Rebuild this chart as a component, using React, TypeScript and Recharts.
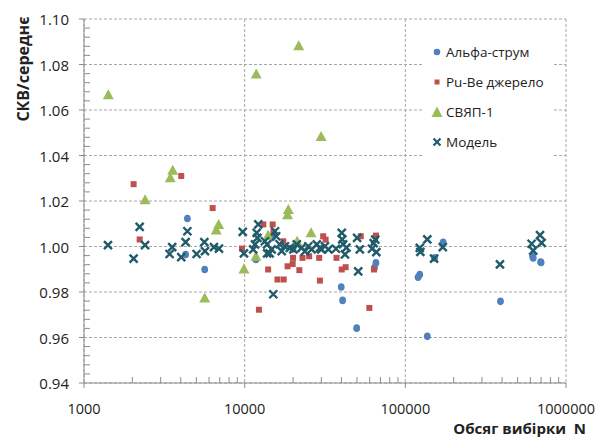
import { ScatterChart, Scatter, XAxis, YAxis, CartesianGrid } from 'recharts'

// Альфа-струм
const alphaN = [4290, 4400, 5640, 11750, 14900, 20000, 39900, 40700, 49800, 64200, 65600, 120000, 123000, 137000, 152000, 172000, 391000, 620000, 625000, 695000, 700000]
const alphaV = [0.9965, 1.0123, 0.9899, 0.9943, 1.004, 0.999, 0.9822, 0.9763, 0.9641, 0.9906, 0.9928, 0.9865, 0.9877, 0.9605, 0.995, 1.0019, 0.9759, 0.9957, 0.995, 0.9932, 0.993]

// Pu-Be джерело
const pubeN = [2036, 2220, 4030, 6320, 9620, 12270, 13070, 14000, 14930, 15100, 16000, 17400, 17500, 18500, 19900, 20000, 21900, 22900, 25200, 29100, 29400, 30800, 31900, 37300, 40200, 42500, 52800, 59700, 63800, 65600]
const pubeV = [1.0274, 1.0031, 1.031, 1.0169, 0.9991, 0.9722, 1.0097, 0.9899, 1.0097, 1.0064, 0.9855, 1.0023, 0.9855, 0.9913, 0.9923, 0.995, 0.9896, 0.995, 0.9957, 0.995, 0.985, 1.0045, 1.003, 0.995, 0.9899, 0.9909, 1.0045, 0.973, 0.9899, 1.0048]

// СВЯП-1
const svyapN = [1417, 2400, 3444, 3565, 5640, 6660, 6890, 9900, 11750, 11800, 14000, 18500, 18700, 21200, 21700, 25900, 29900]
const svyapV = [1.0667, 1.0205, 1.0302, 1.0335, 0.9774, 1.0072, 1.0097, 0.9901, 0.9957, 1.0758, 1.0049, 1.014, 1.0163, 1.0023, 1.0882, 1.006, 1.0484]

// Модель
const modelN = [1410, 2036, 2220, 2400, 3410, 3540, 4030, 4290, 4400, 5020, 5610, 5660, 6440, 6920, 9730, 9900, 11300, 11600, 11880, 12000, 12160, 13370, 13800, 13800, 14300, 14720, 15070, 15450, 15700, 16500, 17000, 17800, 19100, 20100, 21100, 22600, 23700, 24900, 26100, 28100, 29400, 30000, 31600, 33200, 37000, 40200, 40500, 41000, 42100, 43000, 50100, 50900, 52100, 62000, 63500, 65000, 66000, 123000, 124000, 137000, 151000, 171000, 388000, 611000, 625000, 689000, 705000]
const modelV = [1.0006, 0.9947, 1.0086, 1.0006, 0.9967, 0.9997, 0.9953, 1.0019, 1.0067, 0.9967, 1.0019, 0.998, 0.9997, 0.9991, 1.0064, 0.997, 0.9987, 1.0009, 1.006, 1.0038, 1.0097, 1.0023, 1.0009, 0.997, 0.997, 0.9987, 0.979, 1.0067, 1.0045, 1.001, 0.998, 1.0001, 0.9994, 0.9987, 1.0009, 0.9994, 0.9979, 1.0001, 0.9987, 1.0009, 0.9994, 0.9987, 1.0001, 0.9987, 0.999, 1.006, 1.0031, 1.001, 0.9965, 0.9995, 1.0038, 0.9891, 0.9987, 0.999, 1.0015, 1.003, 0.9975, 0.9994, 0.9976, 1.0031, 0.9947, 0.9997, 0.9921, 1.0012, 0.9982, 1.005, 1.0016]

const xMajor = [1000, 10000, 100000, 1000000]
const yMajor = [0.94, 0.96, 0.98, 1.0, 1.02, 1.04, 1.06, 1.08, 1.1]

const xMinor: number[] = []
for (let d = 1000; d < 1000000; d *= 10) for (let k = 2; k <= 9; k++) xMinor.push(d * k)
const yMinor: number[] = []
for (let i = 1; i < 40; i++) if (i % 5 !== 0) yMinor.push(Math.round((0.94 + i * 0.004) * 1000) / 1000)

const xTicks = [...xMajor, ...xMinor].sort((a, b) => a - b)
const yTicks = [...yMajor, ...yMinor].sort((a, b) => a - b)

const toPoints = (n: number[], v: number[]) => n.map((x, i) => ({ x, y: v[i] }))

const FONT = '"Open Sans", "DejaVu Sans", sans-serif'
const AXIS = '#8c8c8c'
const BLUE = '#4f81bd'
const RED = '#c0504d'
const GREEN = '#9bbb59'
const TEAL = '#1f5b6a'

const Dot = ({ cx, cy }: any) => <ellipse cx={cx} cy={cy} rx={3.4} ry={3.8} fill={BLUE} />
const Square = ({ cx, cy }: any) => <rect x={cx - 3} y={cy - 3} width={6} height={6} fill={RED} />
const Tri = ({ cx, cy }: any) => (
  <polygon points={`${cx},${cy - 5.5} ${cx + 5.5},${cy + 4.5} ${cx - 5.5},${cy + 4.5}`} fill={GREEN} />
)
const Cross = ({ cx, cy }: any) => (
  <path
    d={`M${cx - 4},${cy - 4}L${cx + 4},${cy + 4}M${cx + 4},${cy - 4}L${cx - 4},${cy + 4}`}
    stroke={TEAL}
    strokeWidth={2.4}
    fill="none"
  />
)

const isMajor = (list: number[], v: number) => list.some((m) => Math.abs(m - v) < 1e-9)

const XTick = ({ x, y, payload }: any) => {
  const major = isMajor(xMajor, payload.value)
  if (!major) return <line x1={x} x2={x} y1={y} y2={y - 6} stroke={AXIS} />
  return (
    <g>
      <line x1={x} x2={x} y1={y} y2={y + 5} stroke={AXIS} />
      <text x={x} y={y + 25} textAnchor="middle" dominantBaseline="central" fontFamily={FONT} fontSize={14.5} fill="#222">
        {payload.value}
      </text>
    </g>
  )
}

const YTick = ({ x, y, payload }: any) => {
  const major = isMajor(yMajor, payload.value)
  if (!major) return <line x1={x} x2={x + 6} y1={y} y2={y} stroke={AXIS} />
  return (
    <g>
      <line x1={x - 5} x2={x} y1={y} y2={y} stroke={AXIS} />
      <text x={x - 15} y={y} textAnchor="end" dominantBaseline="central" fontFamily={FONT} fontSize={15} fill="#222">
        {payload.value.toFixed(2)}
      </text>
    </g>
  )
}

const legendItems = [
  { name: 'Альфа-струм', icon: <circle cx={7} cy={7} r={3.3} fill={BLUE} /> },
  { name: 'Pu-Be джерело', icon: <rect x={4.5} y={4.5} width={5} height={5} fill={RED} /> },
  { name: 'СВЯП-1', icon: <polygon points="7,1.5 12.5,12 1.5,12" fill={GREEN} /> },
  { name: 'Модель', icon: <path d="M3.5,3.5L10.5,10.5M10.5,3.5L3.5,10.5" stroke={TEAL} strokeWidth={2.2} /> },
]

export default function App() {
  return (
    <div style={{ position: 'absolute', left: 0, top: 0, width: 595, height: 439, background: '#fff', overflow: 'hidden' }}>
      <ScatterChart width={595} height={439} margin={{ top: 19, right: 29, bottom: 16, left: 24 }}>
        <CartesianGrid
          stroke="#a6a6a6"
          strokeDasharray="3 2"
          horizontalValues={yMajor}
          verticalValues={xMajor}
        />
        <XAxis
          type="number"
          dataKey="x"
          scale="log"
          domain={[1000, 1000000]}
          allowDataOverflow
          ticks={xTicks}
          interval={0}
          tick={<XTick />}
          tickLine={false}
          tickSize={0}
          tickMargin={0}
          height={40}
          stroke={AXIS}
        />
        <YAxis
          type="number"
          dataKey="y"
          domain={[0.94, 1.1]}
          allowDataOverflow
          ticks={yTicks}
          interval={0}
          tick={<YTick />}
          tickLine={false}
          tickSize={0}
          tickMargin={0}
          width={60}
          stroke={AXIS}
        />
        <Scatter name="Альфа-струм" data={toPoints(alphaN, alphaV)} shape={<Dot />} isAnimationActive={false} />
        <Scatter name="Pu-Be джерело" data={toPoints(pubeN, pubeV)} shape={<Square />} isAnimationActive={false} />
        <Scatter name="СВЯП-1" data={toPoints(svyapN, svyapV)} shape={<Tri />} isAnimationActive={false} />
        <Scatter name="Модель" data={toPoints(modelN, modelV)} shape={<Cross />} isAnimationActive={false} />
      </ScatterChart>

      <div
        style={{
          position: 'absolute',
          left: 422,
          top: 32,
          width: 131,
          height: 132,
          background: '#fff',
          fontFamily: FONT,
          fontSize: 13.5,
          color: '#222',
        }}
      >
        {legendItems.map((it, i) => (
          <div key={it.name} style={{ position: 'absolute', left: 8, top: 11 + i * 30, height: 18, display: 'flex', alignItems: 'center' }}>
            <svg width={14} height={14} style={{ marginRight: 2 }}>
              {it.icon}
            </svg>
            <span style={{ whiteSpace: 'nowrap' }}>{it.name}</span>
          </div>
        ))}
      </div>

      <div
        style={{
          position: 'absolute',
          left: 23,
          top: 69,
          transform: 'translate(-50%, -50%) rotate(-90deg)',
          fontFamily: FONT,
          fontWeight: 700,
          fontSize: 16,
          color: '#222',
          whiteSpace: 'nowrap',
        }}
      >
        СКВ/середнє
      </div>
      <div
        style={{
          position: 'absolute',
          right: 9,
          top: 419,
          fontFamily: FONT,
          fontWeight: 700,
          fontSize: 15,
          lineHeight: '18px',
          color: '#222',
          whiteSpace: 'pre',
        }}
      >
        {'Обсяг вибірки  N'}
      </div>
    </div>
  )
}
